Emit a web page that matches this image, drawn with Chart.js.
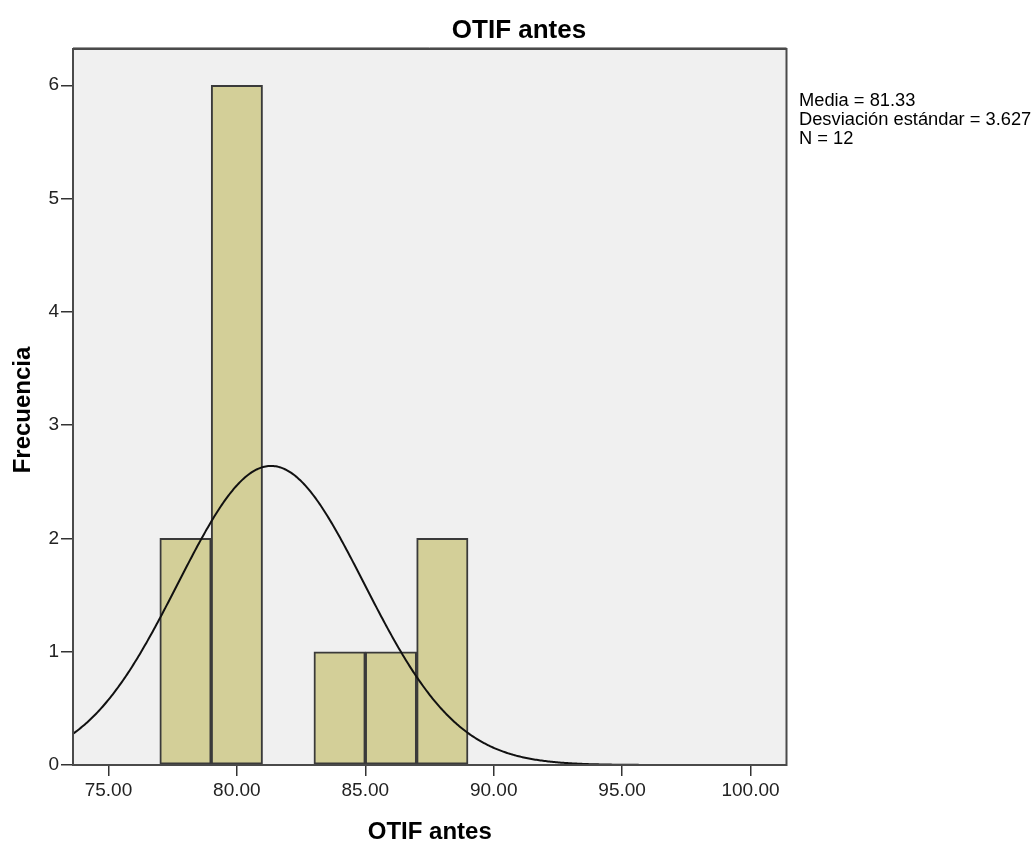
<!DOCTYPE html>
<html>
<head>
<meta charset="utf-8">
<title>OTIF antes</title>
<script src="https://cdn.jsdelivr.net/npm/chart.js@4/dist/chart.umd.min.js"></script>
<style>
  html, body { margin: 0; padding: 0; background: #ffffff; }
  canvas { display: block; }
</style>
</head>
<body>
<canvas id="hist" width="1036" height="841"></canvas>
<script>
// Histogram bins (centre of each 2-unit bin) and their frequencies
const binCenters = [78, 80, 82, 84, 86, 88];
const binCounts  = [2, 6, 0, 1, 1, 2];
const binWidth = 2;

// Summary statistics printed beside the plot
const statMean = 81.33;
const statSd = 3.627;
const statN = 12;

// Axis ticks
const xTicks = [75, 80, 85, 90, 95, 100];
const yTicks = [0, 1, 2, 3, 4, 5, 6];
const xRange = [73.62, 101.4];
const yRange = [0, 6.32];

// Texts
const chartTitle = 'OTIF antes';
const xTitle = 'OTIF antes';
const yTitle = 'Frecuencia';
const statLines = [
  'Media = ' + statMean.toFixed(2),
  'Desviación estándar = ' + statSd.toFixed(3),
  'N = ' + statN
];

// Bars (empty bins are not drawn)
const barData = binCenters
  .map((c, i) => ({ x: c, y: binCounts[i] }))
  .filter(p => p.y > 0);

// Normal curve scaled to the histogram: N * binWidth * pdf(x)
const curveData = [];
for (let x = xRange[0]; x <= xRange[1] + 1e-9; x += 0.05) {
  const z = (x - statMean) / statSd;
  const pdf = Math.exp(-0.5 * z * z) / (statSd * Math.sqrt(2 * Math.PI));
  curveData.push({ x: x, y: statN * binWidth * pdf });
}

const FONT = '"Liberation Sans", Arial, sans-serif';

const decor = {
  id: 'decor',
  beforeDatasetsDraw(chart) {
    const { ctx, chartArea: a } = chart;
    ctx.save();
    ctx.fillStyle = '#f0f0f0';
    ctx.fillRect(a.left, a.top, a.right - a.left, a.bottom - a.top);
    ctx.restore();
  },
  afterDatasetsDraw(chart) {
    const { ctx, chartArea: a } = chart;
    ctx.save();
    // plot frame
    ctx.strokeStyle = '#4a4a4a';
    ctx.lineWidth = 2;
    ctx.strokeRect(a.left, a.top, a.right - a.left, a.bottom - a.top);
    ctx.strokeStyle = '#9a9a9a';
    ctx.lineWidth = 1;
    ctx.beginPath();
    ctx.moveTo(a.left, a.top - 1.5);
    ctx.lineTo(a.right, a.top - 1.5);
    ctx.stroke();

    ctx.fillStyle = '#000000';
    // main title
    ctx.font = 'bold 26px ' + FONT;
    ctx.textAlign = 'center';
    ctx.textBaseline = 'alphabetic';
    ctx.fillText(chartTitle, 519, 38);

    // x axis title
    ctx.font = 'bold 24px ' + FONT;
    ctx.fillText(xTitle, (a.left + a.right) / 2, 839);

    // y axis title
    ctx.save();
    ctx.translate(30, (a.top + a.bottom) / 2 + 3);
    ctx.rotate(-Math.PI / 2);
    ctx.fillText(yTitle, 0, 0);
    ctx.restore();

    // statistics block
    ctx.font = '18.3px ' + FONT;
    ctx.textAlign = 'left';
    statLines.forEach((t, i) => ctx.fillText(t, a.right + 12.5, 106 + i * 19));
    ctx.restore();
  }
};

new Chart(document.getElementById('hist'), {
  type: 'bar',
  data: {
    datasets: [
      {
        type: 'line',
        data: curveData,
        borderColor: '#111111',
        borderWidth: 2,
        pointRadius: 0,
        tension: 0,
        fill: false,
        order: 0
      },
      {
        type: 'bar',
        data: barData,
        backgroundColor: '#d3cf98',
        borderColor: '#3a3a3a',
        borderWidth: 2,
        borderSkipped: false,
        barPercentage: 1,
        categoryPercentage: 1,
        order: 1
      }
    ]
  },
  options: {
    responsive: false,
    devicePixelRatio: 1,
    animation: false,
    layout: { padding: { top: 49, right: 249.5, left: 0, bottom: 0 } },
    plugins: {
      legend: { display: false },
      title: { display: false },
      tooltip: { enabled: false }
    },
    scales: {
      x: {
        type: 'linear',
        offset: false,
        min: xRange[0],
        max: xRange[1],
        afterBuildTicks: s => { s.ticks = xTicks.map(v => ({ value: v })); },
        afterFit: s => { s.height = 76; },
        grid: { offset: false, drawOnChartArea: false, drawTicks: true, tickLength: 11, color: '#333333', lineWidth: 1.5 },
        border: { display: false },
        ticks: {
          padding: 3,
          color: '#222222',
          font: { family: FONT, size: 19 },
          maxRotation: 0,
          callback: v => Number(v).toFixed(2)
        }
      },
      y: {
        type: 'linear',
        min: yRange[0],
        max: yRange[1],
        afterBuildTicks: s => { s.ticks = yTicks.map(v => ({ value: v })); },
        afterFit: s => { s.width = 73; },
        grid: { drawOnChartArea: false, drawTicks: true, tickLength: 12, color: '#333333', lineWidth: 1.5 },
        border: { display: false },
        ticks: {
          padding: 2,
          color: '#222222',
          font: { family: FONT, size: 19 },
          callback: v => String(v)
        }
      }
    }
  },
  plugins: [decor]
});
</script>
</body>
</html>
